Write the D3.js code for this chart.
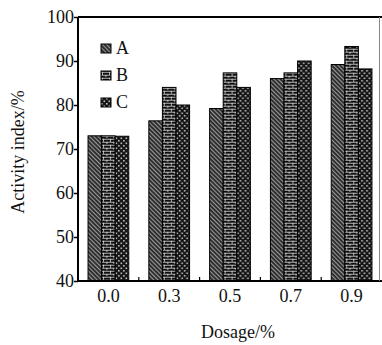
<!DOCTYPE html>
<html>
<head>
<meta charset="utf-8">
<script src="https://cdn.jsdelivr.net/npm/d3@7"></script>
<style>
  body { margin: 0; background: #fff; }
  text { font-family: "Liberation Serif", "Times New Roman", serif; fill: #111; }
</style>
</head>
<body>
<div id="container"></div>
<script>
/* DATA */
const dosages = ["0.0", "0.3", "0.5", "0.7", "0.9"];
const series = ["A", "B", "C"];
const valuesA = [73, 76.4, 79.2, 86, 89.2];
const valuesB = [73, 84, 87.3, 87.3, 93.3];
const valuesC = [72.9, 80, 84, 90, 88.2];
const yTicks = [40, 50, 60, 70, 80, 90, 100];

/* CONSTANTS */
const width = 382, height = 345;
const margin = { top: 17, bottom: 64, left: 78, right: 0 };

const data = dosages.map((d, i) => ({
  dosage: d,
  vals: [
    { key: "A", value: valuesA[i] },
    { key: "B", value: valuesB[i] },
    { key: "C", value: valuesC[i] }
  ]
}));

const svg = d3.select("#container")
  .append("svg")
  .attr("width", width)
  .attr("height", height);

/* PATTERNS */
const defs = svg.append("defs");

const pA = defs.append("pattern")
  .attr("id", "patA").attr("patternUnits", "userSpaceOnUse")
  .attr("width", 3).attr("height", 3)
  .attr("patternTransform", "rotate(-45)");
pA.append("rect").attr("width", 3).attr("height", 3).attr("fill", "#2a2a2a");
pA.append("rect").attr("width", 1.1).attr("height", 3).attr("fill", "#999");

const pB = defs.append("pattern")
  .attr("id", "patB").attr("patternUnits", "userSpaceOnUse")
  .attr("width", 7).attr("height", 6);
pB.append("rect").attr("width", 7).attr("height", 6).attr("fill", "#0d0d0d");
pB.append("rect").attr("x", 0).attr("y", 0.8).attr("width", 7).attr("height", 0.8).attr("fill", "#ddd");
pB.append("rect").attr("x", 0).attr("y", 3.8).attr("width", 7).attr("height", 0.8).attr("fill", "#ddd");
pB.append("rect").attr("x", 1).attr("y", 0.8).attr("width", 0.8).attr("height", 3).attr("fill", "#ddd");
pB.append("rect").attr("x", 4.5).attr("y", 3.8).attr("width", 0.8).attr("height", 3).attr("fill", "#ddd");

const pC = defs.append("pattern")
  .attr("id", "patC").attr("patternUnits", "userSpaceOnUse")
  .attr("width", 5).attr("height", 5);
pC.append("rect").attr("width", 5).attr("height", 5).attr("fill", "#151515");
pC.append("rect").attr("x", 0).attr("y", 0).attr("width", 1.6).attr("height", 1.6).attr("fill", "#bbb");
pC.append("rect").attr("x", 2.5).attr("y", 2.5).attr("width", 1.6).attr("height", 1.6).attr("fill", "#bbb");

const fills = { A: "url(#patA)", B: "url(#patB)", C: "url(#patC)" };

/* SCALES */
const xScale = d3.scaleBand()
  .domain(dosages)
  .range([margin.left, 382])
  .paddingInner(0.33)
  .paddingOuter(0.165);

const xInner = d3.scaleBand()
  .domain(series)
  .range([0, xScale.bandwidth()]);

const yScale = d3.scaleLinear()
  .domain([40, 100])
  .range([height - margin.bottom, margin.top]);

/* BARS */
const groups = svg.selectAll("g.group")
  .data(data)
  .join("g")
  .attr("class", "group")
  .attr("transform", d => `translate(${xScale(d.dosage)},0)`);

groups.selectAll("rect")
  .data(d => d.vals)
  .join("rect")
  .attr("x", d => xInner(d.key))
  .attr("y", d => yScale(d.value))
  .attr("width", xInner.bandwidth())
  .attr("height", d => yScale(40) - yScale(d.value))
  .attr("fill", d => fills[d.key])
  .attr("stroke", "#000")
  .attr("stroke-width", 1);

/* AXES */
const yAxis = d3.axisLeft(yScale).tickValues(yTicks).tickSize(4).tickFormat(d3.format("d"));
svg.append("g")
  .attr("transform", `translate(${margin.left},0)`)
  .call(yAxis)
  .call(g => g.select(".domain").remove())
  .call(g => g.selectAll("line").attr("stroke", "#000").attr("stroke-width", 1.5))
  .call(g => g.selectAll("text")
    .attr("x", -4)
    .style("font-size", "18px")
    .style("font-family", "Liberation Serif, serif")
    .attr("fill", "#111"));

const step = xScale.step();
const bottomY = yScale(40);
svg.append("g")
  .selectAll("line")
  .data(dosages.slice(0, -1))
  .join("line")
  .attr("x1", d => xScale(d) + xScale.bandwidth() + (step - xScale.bandwidth()) / 2)
  .attr("x2", d => xScale(d) + xScale.bandwidth() + (step - xScale.bandwidth()) / 2)
  .attr("y1", bottomY)
  .attr("y2", bottomY - 4)
  .attr("stroke", "#000")
  .attr("stroke-width", 1.2);

svg.append("g")
  .selectAll("text")
  .data(dosages)
  .join("text")
  .attr("x", d => xScale(d) + xScale.bandwidth() / 2)
  .attr("y", 302)
  .attr("text-anchor", "middle")
  .style("font-size", "18px")
  .text(d => d);

/* FRAME */
svg.append("line")
  .attr("x1", margin.left).attr("x2", 382)
  .attr("y1", margin.top).attr("y2", margin.top)
  .attr("stroke", "#000").attr("stroke-width", 2);
svg.append("line")
  .attr("x1", margin.left).attr("x2", margin.left)
  .attr("y1", margin.top).attr("y2", bottomY)
  .attr("stroke", "#000").attr("stroke-width", 2);
svg.append("line")
  .attr("x1", margin.left).attr("x2", 382)
  .attr("y1", bottomY).attr("y2", bottomY)
  .attr("stroke", "#000").attr("stroke-width", 2);
svg.append("line")
  .attr("x1", 379.5).attr("x2", 379.5)
  .attr("y1", margin.top).attr("y2", bottomY)
  .attr("stroke", "#888").attr("stroke-width", 1);

/* LEGEND */
const legend = svg.append("g")
  .selectAll("g")
  .data(series)
  .join("g")
  .attr("transform", (d, i) => `translate(101,${44 + i * 27})`);
legend.append("rect")
  .attr("width", 10).attr("height", 9)
  .attr("fill", d => fills[d])
  .attr("stroke", "#000").attr("stroke-width", 1);
legend.append("text")
  .attr("x", 15).attr("y", 10)
  .style("font-size", "18px")
  .text(d => d);

/* TITLES */
svg.append("text")
  .attr("x", 238)
  .attr("y", 338)
  .attr("text-anchor", "middle")
  .style("font-size", "18px")
  .text("Dosage/%");

svg.append("text")
  .attr("transform", "translate(24,152) rotate(-90)")
  .attr("text-anchor", "middle")
  .style("font-size", "18px")
  .text("Activity index/%");
</script>
</body>
</html>
